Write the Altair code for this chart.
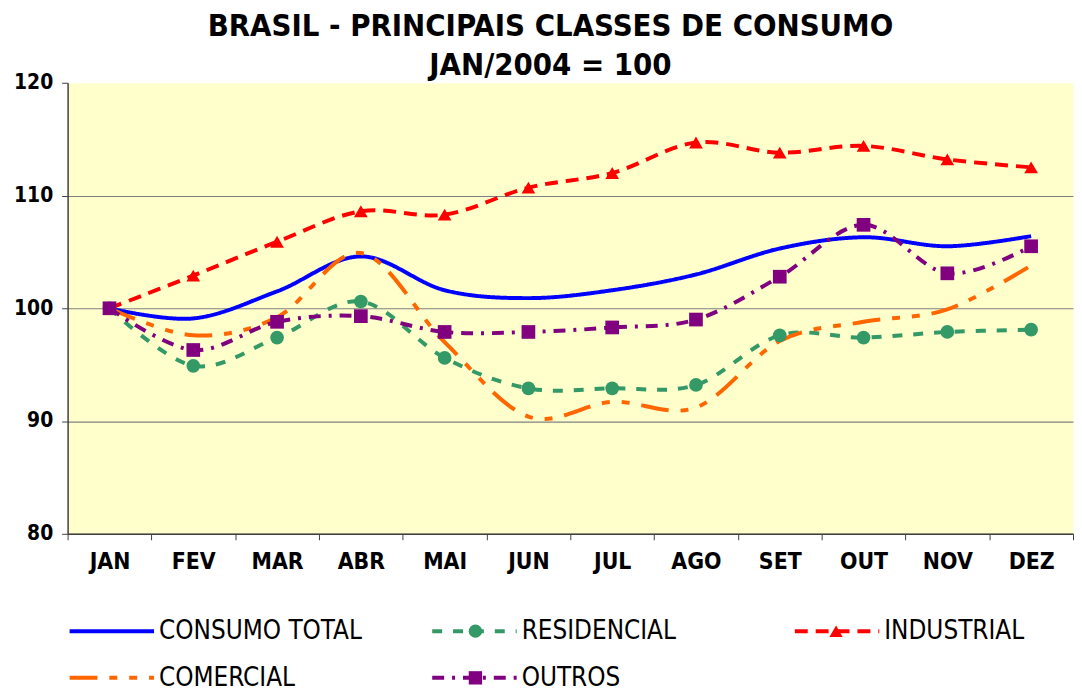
import altair as alt
import pandas as pd

months = ["JAN", "FEV", "MAR", "ABR", "MAI", "JUN", "JUL", "AGO", "SET", "OUT", "NOV", "DEZ"]
series = ["CONSUMO TOTAL", "RESIDENCIAL", "INDUSTRIAL", "COMERCIAL", "OUTROS"]
marker_keys = ["m0", "m1", "m2", "m3", "m4"]

consumo_total = [100, 99.1, 101.5, 104.6, 101.6, 100.9, 101.6, 103.0, 105.3, 106.3, 105.5, 106.4]
residencial = [100, 94.9, 97.4, 100.6, 95.6, 92.9, 92.9, 93.2, 97.6, 97.4, 97.9, 98.1]
industrial = [100, 102.9, 105.9, 108.6, 108.3, 110.7, 112.0, 114.7, 113.8, 114.4, 113.2, 112.5]
comercial = [100, 97.6, 99.2, 104.9, 97.0, 90.4, 91.7, 91.2, 97.1, 98.8, 99.9, 103.8]
outros = [100, 96.3, 98.8, 99.3, 97.9, 97.9, 98.3, 99.0, 102.8, 107.4, 103.1, 105.5]

line_colors = ["#0000FF", "#339966", "#FF0000", "#FF6600", "#800080"]
line_dashes = [[1, 0], [10, 11], [13, 8], [28, 12, 8, 12, 8, 12], [12, 8, 3, 8]]
line_widths = [4, 4, 2, 5, 2]
marker_shapes = ["circle", "circle", "triangle-up", "circle", "square"]
marker_fills = ["transparent", "#339966", "#FF0000", "transparent", "#800080"]
marker_series = ["m1", "m2", "m4"]

rows = []
for s, k, vals in zip(series, marker_keys, [consumo_total, residencial, industrial, comercial, outros]):
    for i, (m, v) in enumerate(zip(months, vals)):
        rows.append({"mes": m, "idx": i, "serie": s, "marca": k, "valor": v})
df = pd.DataFrame(rows)

FONT = "DejaVu Sans Condensed"

x_enc = alt.X(
    "mes:N",
    sort=months,
    scale=alt.Scale(type="band", domain=months, paddingInner=0, paddingOuter=0),
    axis=alt.Axis(
        title=None, tickBand="extent", labelAngle=0, labelFont=FONT, labelFontSize=23,
        labelFontWeight="bold", labelColor="black", labelPadding=11, tickSize=6,
        tickColor="#404040", domainColor="#404040", domainWidth=1.5, grid=False,
    ),
)
y_enc = alt.Y(
    "valor:Q",
    scale=alt.Scale(domain=[80, 120], nice=False, zero=False),
    axis=alt.Axis(
        title=None, values=[80, 90, 100, 110, 120], labelFont=FONT, labelFontSize=21,
        labelFontWeight="bold", labelColor="black", labelPadding=9, tickSize=6,
        tickColor="#404040", domainColor="#404040", domainWidth=1.5,
        grid=True, gridColor="#808080", gridWidth=1.2,
        gridOpacity={"condition": {"test": "datum.value >= 120", "value": 0}, "value": 1},
    ),
)

common_legend = dict(
    title=None, orient="none", legendX=0, legendY=539, columns=3, direction="horizontal",
    gridAlign="all", labelFont=FONT, labelFontSize=26, labelColor="black", labelLimit=400,
    rowPadding=21, padding=0,
)
legend_line = alt.Legend(
    symbolType="M-5,0H5", symbolSize=289, symbolOffset=31.5, labelOffset=34.5,
    symbolFillColor="transparent", columnPadding=62, **common_legend,
)
legend_mark = alt.Legend(
    symbolSize=180, symbolOffset=34.5, labelOffset=37.5, labelExpr="''",
    symbolStrokeWidth=0, columnPadding=265, **common_legend,
)

lines = alt.Chart(df).mark_line(interpolate="cardinal").encode(
    x=x_enc,
    y=y_enc,
    order=alt.Order("idx:Q"),
    color=alt.Color("serie:N", scale=alt.Scale(domain=series, range=line_colors), legend=legend_line),
    strokeDash=alt.StrokeDash("serie:N", scale=alt.Scale(domain=series, range=line_dashes), legend=legend_line),
    strokeWidth=alt.StrokeWidth("serie:N", scale=alt.Scale(domain=series, range=line_widths), legend=legend_line),
)

points = alt.Chart(df).transform_filter(
    alt.FieldOneOfPredicate(field="marca", oneOf=marker_series)
).mark_point(filled=True, size=190, opacity=1).encode(
    x=x_enc,
    y=y_enc,
    fill=alt.Fill("marca:N", scale=alt.Scale(domain=marker_keys, range=marker_fills), legend=legend_mark),
    shape=alt.Shape("marca:N", scale=alt.Scale(domain=marker_keys, range=marker_shapes), legend=legend_mark),
)

chart = alt.layer(lines, points).properties(
    width=1012,
    height=454,
    padding={"left": 5, "top": 1, "right": 0, "bottom": 0},
    background="white",
    title=alt.TitleParams(
        text="BRASIL - PRINCIPAIS CLASSES DE CONSUMO",
        subtitle="JAN/2004 = 100",
        font=FONT, fontSize=31, fontWeight="bold", color="black",
        subtitleFont=FONT, subtitleFontSize=31, subtitleFontWeight="bold", subtitleColor="black",
        subtitlePadding=8, anchor="middle", dx=-20, offset=-10,
    ),
).configure_view(fill="#FFFFCC", stroke="transparent")

chart.save("out.html", embed_options={"renderer": "svg", "actions": False})
